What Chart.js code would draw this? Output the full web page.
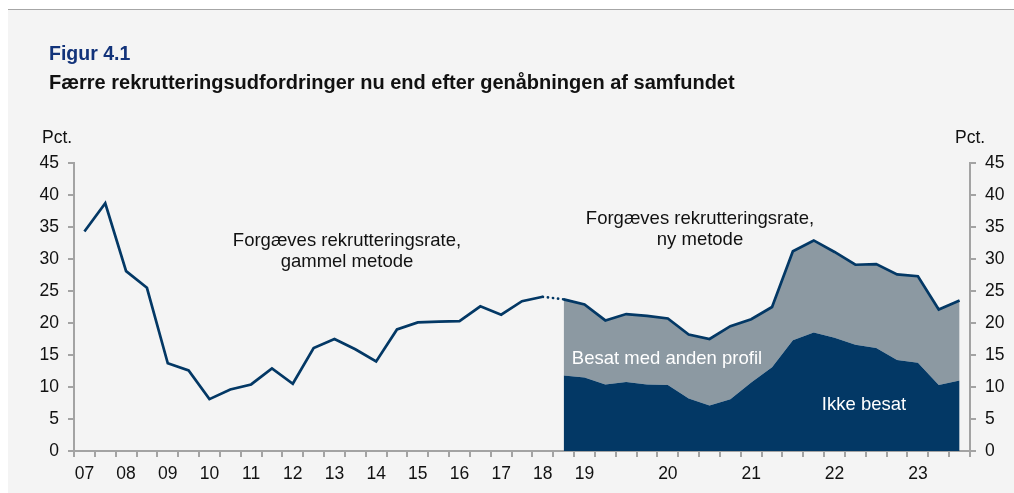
<!DOCTYPE html>
<html>
<head>
<meta charset="utf-8">
<script src="https://cdn.jsdelivr.net/npm/chart.js@4"></script>
<style>
  html, body { margin: 0; padding: 0; background: #fff; }
  body { width: 1014px; height: 493px; position: relative; overflow: hidden; font-family: 'Liberation Sans', Arial, sans-serif; }
  #panel { position: absolute; left: 8px; top: 9px; right: 0; bottom: 0; background: #f4f4f4; border-top: 1px solid #a6a6a6; }
  #chart { position: absolute; left: 0; top: 0; }
  .txt { position: absolute; white-space: nowrap; line-height: 22px; }
  .c { transform: translate(-50%, -50%); text-align: center; line-height: 21px; }
</style>
</head>
<body>
<div id="panel"></div>
<canvas id="chart" width="1014" height="493"></canvas>
<div class="txt" style="left:49px; top:42px; font-size:19.5px; font-weight:bold; color:#12337a;">Figur 4.1</div>
<div class="txt" style="left:49px; top:71px; font-size:20px; font-weight:bold; color:#111;">Færre rekrutteringsudfordringer nu end efter genåbningen af samfundet</div>
<div class="txt" style="left:42px; top:126px; font-size:17.5px; color:#111;">Pct.</div>
<div class="txt" style="left:955px; top:126px; font-size:17.5px; color:#111;">Pct.</div>
<div class="txt c" style="left:347px; top:250px; font-size:18.5px; color:#111;">Forgæves rekrutteringsrate,<br>gammel metode</div>
<div class="txt c" style="left:700px; top:228px; font-size:18.5px; color:#111;">Forgæves rekrutteringsrate,<br>ny metode</div>
<div class="txt c" style="left:667px; top:357px; font-size:18.5px; color:#fff;">Besat med anden profil</div>
<div class="txt c" style="left:864px; top:403px; font-size:18.5px; color:#fff;">Ikke besat</div>
<script>
// x categories: half-years 2007-2018, quarters 2019-2023Q3
const xLabels = [
  '07', '', '08', '', '09', '', '10', '', '11', '', '12', '',
  '13', '', '14', '', '15', '', '16', '', '17', '', '18', '',
  '19', '', '', '', '20', '', '', '', '21', '', '', '',
  '22', '', '', '', '23', '', ''
];

// old method, half-yearly 2007H1-2018H1
const oldRate = [
  34.3, 38.7, 28.1, 25.5, 13.7, 12.6, 8.1, 9.6, 10.4, 12.9, 10.5, 16.1,
  17.5, 15.9, 14.0, 19.0, 20.1, 20.2, 20.3, 22.6, 21.3, 23.4, 24.1
];

// new method, from index 23 onward
const newRate = [
  23.7, 22.9, 20.4, 21.4, 21.1, 20.7, 18.2, 17.5, 19.5, 20.6,
  22.5, 31.2, 32.9, 31.1, 29.1, 29.2, 27.6, 27.3, 22.1, 23.5
];
const ikkeBesat = [
  11.8, 11.5, 10.4, 10.8, 10.4, 10.3, 8.2, 7.1, 8.1, 10.7,
  13.1, 17.3, 18.5, 17.7, 16.6, 16.1, 14.2, 13.8, 10.3, 11.0
];

const navy = '#033865';
const grey = '#8c99a2';
const axisColor = '#a3a3a3';

const n = xLabels.length;
const newStart = n - newRate.length;
const pad = (arr, start) => {
  const out = new Array(n).fill(null);
  arr.forEach((v, i) => { out[start + i] = v; });
  return out;
};
const bridge = new Array(n).fill(null);
bridge[oldRate.length - 1] = oldRate[oldRate.length - 1];
bridge[newStart] = newRate[0];

Chart.defaults.font.family = "'Liberation Sans', Arial, sans-serif";
Chart.defaults.color = '#111';

const yOpts = {
  min: 0, max: 45,
  ticks: { stepSize: 5, font: { size: 17.5 }, padding: 9, color: '#111' },
  grid: { drawOnChartArea: false, drawTicks: true, tickLength: 6, color: axisColor, lineWidth: 2 },
  border: { display: true, color: axisColor, width: 2 }
};

new Chart(document.getElementById('chart'), {
  type: 'line',
  data: {
    labels: xLabels,
    datasets: [
      {
        label: 'Gammel metode',
        data: pad(oldRate, 0),
        borderColor: navy, borderWidth: 2.7, pointRadius: 0, fill: false, tension: 0
      },
      {
        label: 'Overgang',
        data: bridge,
        borderColor: navy, borderWidth: 2.7, pointRadius: 0, fill: false,
        borderDash: [0.1, 5], borderCapStyle: 'round', spanGaps: false
      },
      {
        label: 'Ikke besat',
        data: pad(ikkeBesat, newStart),
        borderWidth: 0, borderColor: 'rgba(0,0,0,0)', backgroundColor: navy,
        pointRadius: 0, fill: 'origin'
      },
      {
        label: 'Besat med anden profil',
        data: pad(newRate, newStart),
        borderColor: navy, borderWidth: 2.7, backgroundColor: grey,
        pointRadius: 0, fill: '-1'
      }
    ]
  },
  options: {
    responsive: false,
    animation: false,
    events: [],
    layout: { padding: { top: 163, left: 0, right: 0, bottom: 0 } },
    plugins: { legend: { display: false }, tooltip: { enabled: false } },
    scales: {
      x: {
        offset: true,
        ticks: { autoSkip: false, maxRotation: 0, font: { size: 17.5 }, padding: 7, color: '#111' },
        grid: { offset: true, drawOnChartArea: false, drawTicks: true, tickLength: 6, color: axisColor, lineWidth: 2 },
        border: { display: true, color: axisColor, width: 2 },
        afterFit: s => { s.height = 42; }
      },
      y: Object.assign({ position: 'left', afterFit: s => { s.width = 74; } }, yOpts),
      y2: Object.assign({ position: 'right', afterFit: s => { s.width = 44; } }, yOpts)
    }
  }
});
</script>
</body>
</html>
